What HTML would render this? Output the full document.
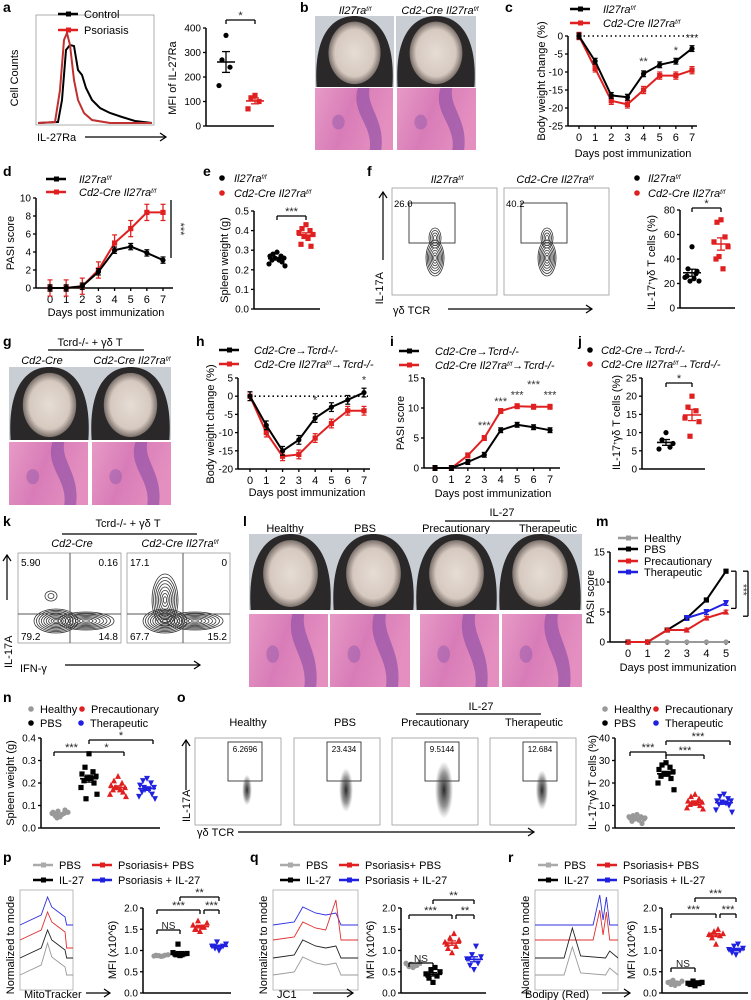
<!DOCTYPE html>
<html><head><meta charset="utf-8"><style>
html,body{margin:0;padding:0;background:#fff;}
svg{display:block;font-family:"Liberation Sans",Arial,sans-serif;}
</style></head><body>
<svg id="fig" width="751" height="1000" viewBox="0 0 751 1000" xmlns="http://www.w3.org/2000/svg">
<defs>
<radialGradient id="blob"><stop offset="0" stop-color="#111" stop-opacity="0.9"/><stop offset="0.6" stop-color="#333" stop-opacity="0.5"/><stop offset="1" stop-color="#666" stop-opacity="0"/></radialGradient>
<radialGradient id="skin"><stop offset="0" stop-color="#e6ddd5"/><stop offset="0.75" stop-color="#d6c9c0"/><stop offset="1" stop-color="#7a706a"/></radialGradient>
<linearGradient id="histo" x1="0" y1="0" x2="1" y2="0.3"><stop offset="0" stop-color="#e79ac6"/><stop offset="0.5" stop-color="#d87cb8"/><stop offset="1" stop-color="#e48fc0"/></linearGradient>
</defs>
</svg>
<script>
// ---------- DATA ----------
const daysC=[0,1,2,3,4,5,6,7];
const cCtrl=[0,-7,-16.5,-17,-10.5,-8,-7,-3.5];
const cCre=[0,-9,-18,-19,-15,-11,-11,-9.5];
const dCtrl=[0,0,0.2,1.8,4.2,4.6,3.9,3.1];
const dCre=[0,0,0.2,2,5,6.6,8.4,8.4];
const hCtrl=[0,-8,-15,-12,-6,-3,-1,1];
const hCre=[0,-10,-16.5,-16,-11.5,-7.5,-4,-4];
const iCtrl=[0,0,1,2.2,6.3,7.2,6.8,6.3];
const iCre=[0,0,2.1,5,9.5,10.3,10.2,10.2];
const daysM=[0,1,2,3,4,5];
const mHealthy=[0,0,0,0,0,0];
const mPBS=[0,0,2,4,7,11.8];
const mPrec=[0,0,2,2,4,5];
const mTher=[null,null,null,4,5,6.5];
const aCtrl=[370,270,240,165];
const aPso=[125,115,100,70];
const eCtrl=[0.29,0.28,0.27,0.27,0.26,0.26,0.25,0.25,0.24,0.23,0.22];
const eCre=[0.43,0.41,0.40,0.39,0.38,0.37,0.36,0.33,0.32];
const fCtrl=[50,32,28,25,22,22,24,26,30];
const fCre=[72,70,58,54,50,42,32,40];
const jCtrl=[10,8,6,5.5,7];
const jCre=[20,17,16,14,13,9];
const nHealthy=[0.05,0.06,0.065,0.07,0.07,0.075,0.06,0.055,0.08,0.065,0.07,0.045];
const nPBS=[0.33,0.27,0.25,0.24,0.23,0.22,0.22,0.21,0.2,0.18,0.15,0.13];
const nPrec=[0.23,0.21,0.2,0.19,0.18,0.18,0.17,0.17,0.16,0.15,0.14,0.18];
const nTher=[0.22,0.21,0.2,0.19,0.18,0.17,0.17,0.16,0.15,0.14,0.13,0.18];
const oHealthy=[6,5.5,5,4.5,4,4,3.5,3,2,5,4.5];
const oPBS=[29,28,27,26,25,24,24,23,22,20,17];
const oPrec=[15,14,13,12,11.5,11,11,10.5,10,9,8.5];
const oTher=[15,14,13,12,12,11.5,11,10.5,10,8,7];
const pVals=[[0.86,0.88,0.89,0.87,0.9,0.88,0.87,0.89],[0.88,0.9,0.92,0.95,0.93,1.15,0.9,0.92],[1.45,1.5,1.55,1.6,1.65,1.7,1.55,1.5],[1.0,1.05,1.1,1.1,1.15,1.2,1.08,1.1]];
const qVals=[[0.6,0.62,0.65,0.7,0.72,0.68,0.64,0.66],[0.25,0.35,0.4,0.45,0.5,0.55,0.6,0.42],[0.95,1.05,1.1,1.2,1.25,1.3,1.4,1.15],[0.55,0.65,0.7,0.8,0.85,0.9,1.1,0.8]];
const rVals=[[0.18,0.2,0.22,0.25,0.28,0.3,0.24,0.26],[0.17,0.2,0.22,0.23,0.25,0.28,0.24,0.21],[1.15,1.3,1.35,1.38,1.4,1.45,1.5,1.37],[0.9,0.95,1.0,1.02,1.05,1.1,1.15,1.0]];

// ---------- HELPERS ----------
const NS='http://www.w3.org/2000/svg';
const svg=document.getElementById('fig');
function mk(tag,a,name,p){
  const e=document.createElementNS(NS,tag);
  for(const k in a) e.setAttribute(k,a[k]);
  
  
  (p||svg).appendChild(e);return e;
}
function tx(x,y,s,name,o){
  o=o||{};
  const e=mk('text',{x:x,y:y,'font-size':o.fs||10,'text-anchor':o.anchor||'start',fill:o.fill||'#000','font-style':o.it?'italic':'normal','font-weight':o.bold?'bold':'normal'},name);
  if(o.rot!==undefined) e.setAttribute('transform','rotate('+o.rot+' '+x+' '+y+')');
  e.textContent=s;return e;
}
function tspanSup(e,s){const t=document.createElementNS(NS,'tspan');t.setAttribute('baseline-shift','super');t.setAttribute('font-size','6');t.textContent=s;e.appendChild(t);}
function ln(x1,y1,x2,y2,name,c,w,dash){const e=mk('line',{x1:x1,y1:y1,x2:x2,y2:y2,stroke:c||'#000','stroke-width':w||1.3},name);if(dash)e.setAttribute('stroke-dasharray',dash);return e;}
function arrowR(x1,x2,y,name){ln(x1,y,x2,y,name,'#000',1.2);mk('path',{d:`M${x2-6},${y-4} L${x2},${y} L${x2-6},${y+4}`,fill:'none',stroke:'#000','stroke-width':1.2},name+'-head');}
function arrowU(x,y1,y2,name){ln(x,y1,x,y2,name,'#000',1.2);mk('path',{d:`M${x-4},${y2+6} L${x},${y2} L${x+4},${y2+6}`,fill:'none',stroke:'#000','stroke-width':1.2},name+'-head');}
function label(x,y,s){tx(x,y,s,'panel-label-'+s,{fs:14,bold:true});}
function yAxis(x,yTop,yBot,min,max,ticks,fmt,name){
  const sc=v=>yBot-(v-min)/(max-min)*(yBot-yTop);
  ln(x,yTop,x,yBot,name+'-line','#000',1.5);
  ticks.forEach(t=>{const y=sc(t);ln(x-3,y,x,y,name+'-tick');tx(x-5,y+3.5,fmt?fmt(t):String(t),name+'-tick-label',{anchor:'end',fs:10});});
  return sc;
}
function marker(shape,x,y,c,name){
  const r=2.6;
  if(shape==='circle') return mk('circle',{cx:x,cy:y,r:r,fill:c},name);
  if(shape==='square') return mk('rect',{x:x-r,y:y-r,width:2*r,height:2*r,fill:c},name);
  if(shape==='tri') return mk('path',{d:`M${x},${y-r-0.6} L${x+r+0.4},${y+r} L${x-r-0.4},${y+r} Z`,fill:c},name);
  return mk('path',{d:`M${x},${y+r+0.6} L${x+r+0.4},${y-r} L${x-r-0.4},${y-r} Z`,fill:c},name);
}
function dotGroup(xc,vals,sc,color,shape,name){
  const offs=[0,-4,4,-7,7,-2,2,-5,5,-8,8,-3,3];
  vals.forEach((v,i)=>marker(shape,xc+offs[i%offs.length],sc(v),color,name+'-point'));
  const n=vals.length,m=vals.reduce((a,b)=>a+b,0)/n;
  const sd=Math.sqrt(vals.reduce((a,b)=>a+(b-m)*(b-m),0)/(n-1)),se=sd/Math.sqrt(n);
  ln(xc-9,sc(m),xc+9,sc(m),name+'-mean',color,1.6);
  ln(xc,sc(m-se),xc,sc(m+se),name+'-sem',color,1.3);
  ln(xc-4,sc(m-se),xc+4,sc(m-se),name+'-sem-cap',color,1.3);
  ln(xc-4,sc(m+se),xc+4,sc(m+se),name+'-sem-cap',color,1.3);
}
function bracket(x1,x2,y,s,name){
  ln(x1,y,x2,y,name,'#000',1.3);ln(x1,y,x1,y+4,name+'-tick');ln(x2,y,x2,y+4,name+'-tick');
  tx((x1+x2)/2,y-1,s,name+'-label',{anchor:'middle',fs:s==='NS'?10:11,fill:'#222'});
}
function xTicks(xs,labels,yAx,name){xs.forEach((x,i)=>{ln(x,yAx,x,yAx+3,name+'-tick');tx(x,yAx+15,String(labels[i]),name+'-tick-label',{anchor:'middle',fs:11});});}
function series(days,vals,xs,sc,color,shape,name,err){
  let d='';days.forEach((dd,i)=>{if(vals[i]===null)return;d+=(d?'L':'M')+xs(dd)+','+sc(vals[i]);});
  mk('path',{d:d,fill:'none',stroke:color,'stroke-width':2},name+'-line');
  days.forEach((dd,i)=>{if(vals[i]===null)return;const x=xs(dd),y=sc(vals[i]);
    if(err){ln(x,sc(vals[i]-err),x,sc(vals[i]+err),name+'-err',color,1.3);ln(x-2.5,sc(vals[i]-err),x+2.5,sc(vals[i]-err),name+'-err-cap',color,1.2);ln(x-2.5,sc(vals[i]+err),x+2.5,sc(vals[i]+err),name+'-err-cap',color,1.2);}
    marker(shape,x,y,color,name+'-point');});
}
function legendLine(x,y,color,s,name,it){ln(x,y,x+20,y,name+'-swatch',color,2.5);mk('rect',{x:x+8,y:y-2.5,width:5,height:5,fill:color},name+'-marker');const t=tx(x+26,y+4,s,name+'-text',{fs:11,it:it});return t;}
function legendDot(x,y,color,s,name,it){mk('circle',{cx:x,cy:y,r:2.8,fill:color},name+'-marker');return tx(x+9,y+4,s,name+'-text',{fs:11,it:it});}
function supText(x,y,pre,sup,post,name,o){const t=tx(x,y,pre,name,o);tspanSup(t,sup);if(post){const t2=document.createElementNS(NS,'tspan');t2.textContent=post;t.appendChild(t2);}return t;}
function photo(x,y,w,h,name){
  mk('rect',{x:x,y:y,width:w,height:h,fill:'#c9cdd4'},name+'-bg');
  mk('path',{d:`M${x+w*0.02},${y+h} C${x-w*0.02},${y+h*0.3} ${x+w*0.2},${y} ${x+w*0.5},${y} C${x+w*0.8},${y} ${x+w*1.02},${y+h*0.3} ${x+w*0.98},${y+h} Z`,fill:'#2a2828'},name+'-mouse');
  mk('ellipse',{cx:x+w*0.5,cy:y+h*0.52,rx:w*0.33,ry:h*0.44,fill:'url(#skin)'},name+'-skin');
}
function histo(x,y,w,h,name){
  mk('rect',{x:x,y:y,width:w,height:h,fill:'url(#histo)'},name);
  mk('path',{d:`M${x+w*0.55},${y} C${x+w*0.45},${y+h*0.4} ${x+w*0.75},${y+h*0.6} ${x+w*0.7},${y+h} L${x+w*0.85},${y+h} C${x+w*0.9},${y+h*0.5} ${x+w*0.65},${y+h*0.3} ${x+w*0.7},${y} Z`,fill:'#9a56a8',opacity:0.75},name+'-epidermis');
  mk('ellipse',{cx:x+w*0.3,cy:y+h*0.55,rx:w*0.08,ry:h*0.12,fill:'#a060ae',opacity:0.6},name+'-follicle');
}
function contour(cx,cy,rx,ry,n,name,rot){const g=mk('g',{transform:`rotate(${rot||0} ${cx} ${cy})`},name);for(let i=0;i<n;i++){mk('ellipse',{cx:cx,cy:cy,rx:rx*(1-i/n),ry:ry*(1-i/n),fill:'none',stroke:'#333','stroke-width':0.8},name+'-level',g);}}

// ---------- PANEL A ----------
label(3,12,'a');
mk('rect',{x:36,y:15,width:118,height:110,fill:'none',stroke:'#999','stroke-width':0.8},'histogram-frame');
mk('path',{d:'M38,123 L58,122 L62,100 L66,50 L70,45 L74,46 L78,70 L82,75 L86,88 L92,100 L100,108 L110,113 L122,117 L135,121 L152,123',fill:'none',stroke:'#000','stroke-width':2},'control-histogram');
mk('path',{d:'M38,123 L55,122 L60,90 L64,40 L67,33 L70,45 L74,80 L78,100 L84,113 L92,120 L110,123 L152,123',fill:'none',stroke:'#c03030','stroke-width':2},'psoriasis-histogram');
legendLine(58,14,'#000','Control','legend-control');
legendLine(58,30,'#e02020','Psoriasis','legend-psoriasis');
tx(18,78,'Cell Counts','y-axis-title-a',{rot:-90,anchor:'middle',fs:11});
tx(37,141,'IL-27Ra','x-axis-title-a',{fs:11});
arrowR(85,166,137,'x-arrow-a');
let sc=yAxis(206,28,126,0,400,[0,100,200,300,400],null,'y-axis-a2');
ln(206,126,274,126,'x-axis-a2','#000',1.5);
dotGroup(226,aCtrl,sc,'#000','circle','control');dotGroup(255,aPso,sc,'#e02020','square','psoriasis');
bracket(226,255,20,'*','sig-a');
tx(176,78,'MFI of IL-27Ra','y-axis-title-a2',{rot:-90,anchor:'middle',fs:11});

// ---------- PANEL B ----------
label(300,12,'b');
supText(355,14,'Il27ra','f/f','','label-b1',{it:true,fs:11,anchor:'middle'});
supText(440,14,'Cd2-Cre Il27ra','f/f','','label-b2',{it:true,fs:11,anchor:'middle'});
photo(315,16,79,71,'photo-b1');photo(396,16,80,71,'photo-b2');
histo(315,88,78,62,'histology-b1');histo(397,88,79,62,'histology-b2');

// ---------- PANEL C ----------
label(505,12,'c');
sc=yAxis(568,36,126,-25,0,[0,-5,-10,-15,-20,-25],null,'y-axis-c');
let xs=d=>579+d*(113/7);
ln(568,126,697,126,'x-axis-c','#000',1.5);
xTicks(daysC.map(xs),daysC,126,'x-axis-c');
ln(579,36,697,36,'zero-line-c','#000',1.6,'1.5,3');
series(daysC,cCre,xs,sc,'#e02020','square','cre-c',1);
series(daysC,cCtrl,xs,sc,'#000','circle','ctrl-c',0.8);
tx(xs(4),sc(-8),'**','sig-c4',{anchor:'middle',fs:11,fill:'#333'});
tx(xs(6),sc(-5),'*','sig-c6',{anchor:'middle',fs:11,fill:'#333'});
tx(xs(7),sc(-1.5),'***','sig-c7',{anchor:'middle',fs:11,fill:'#333'});
tx(545,81,'Body weight change (%)','y-axis-title-c',{rot:-90,anchor:'middle',fs:11});
tx(633,157,'Days post immunization','x-axis-title-c',{anchor:'middle',fs:11});
legendLine(570,9,'#000','','legend-ctrl-c');supText(603,13,'Il27ra','f/f','','legend-ctrl-c-label',{it:true,fs:11});
legendLine(570,23,'#e02020','','legend-cre-c');supText(603,27,'Cd2-Cre Il27ra','f/f','','legend-cre-c-label',{it:true,fs:11});

// ---------- PANEL D ----------
label(3,176,'d');
sc=yAxis(36,198,288,0,10,[0,2,4,6,8,10],null,'y-axis-d');
xs=d=>50+d*(113/7);
ln(36,288,173,288,'x-axis-d','#000',1.5);
xTicks(daysC.map(xs),daysC,288,'x-axis-d');
series(daysC,dCre,xs,sc,'#e02020','square','cre-d',0.9);
series(daysC,dCtrl,xs,sc,'#000','circle','ctrl-d',0.35);
ln(171,200,171,258,'sig-line-d');tx(177,229,'***','sig-d',{rot:90,anchor:'middle',fs:11,fill:'#333'});
tx(14,243,'PASI score','y-axis-title-d',{rot:-90,anchor:'middle',fs:11});
tx(106,316,'Days post immunization','x-axis-title-d',{anchor:'middle',fs:11});
legendLine(46,179,'#000','','legend-ctrl-d');supText(79,183,'Il27ra','f/f','','legend-ctrl-d-label',{it:true,fs:11});
legendLine(46,192,'#e02020','','legend-cre-d');supText(79,196,'Cd2-Cre Il27ra','f/f','','legend-cre-d-label',{it:true,fs:11});

// ---------- PANEL E ----------
label(203,176,'e');
sc=yAxis(254,211,309,0,0.5,[0,0.1,0.2,0.3,0.4,0.5],t=>t.toFixed(1),'y-axis-e');
ln(254,309,320,309,'x-axis-e','#000',1.5);
dotGroup(277,eCtrl,sc,'#000','circle','ctrl-e');dotGroup(306,eCre,sc,'#e02020','square','cre-e');
bracket(277,306,216,'***','sig-e');
tx(228,260,'Spleen weight (g)','y-axis-title-e',{rot:-90,anchor:'middle',fs:11});
legendDot(222,178,'#000','','legend-ctrl-e');supText(234,182,'Il27ra','f/f','','legend-ctrl-e-label',{it:true,fs:11});
legendDot(222,193,'#e02020','','legend-cre-e');supText(234,197,'Cd2-Cre Il27ra','f/f','','legend-cre-e-label',{it:true,fs:11});

// ---------- PANEL F ----------
label(367,176,'f');
supText(447,183,'Il27ra','f/f','','label-f1',{it:true,fs:11,anchor:'middle'});
supText(555,183,'Cd2-Cre Il27ra','f/f','','label-f2',{it:true,fs:11,anchor:'middle'});
[[392,'f1','26.0',435],[504,'f2','40.2',547]].forEach(b=>{
  mk('rect',{x:b[0],y:188,width:105,height:107,fill:'none',stroke:'#999','stroke-width':0.8},'flow-plot-'+b[1]);
  mk('rect',{x:b[0]+17,y:203,width:46,height:40,fill:'none',stroke:'#333','stroke-width':0.9},'gate-'+b[1]);
  tx(b[0]+2,207,b[2],'gate-value-'+b[1],{fs:9.5});
  contour(b[3],258,9,18,7,'contour-'+b[1],0);contour(b[3],238,6,10,4,'contour-top-'+b[1],0);
});
arrowU(383,260,192,'y-arrow-f');
tx(383,272,'IL-17A','y-axis-title-f',{rot:-90,anchor:'end',fs:11});
tx(393,314,'γδ TCR','x-axis-title-f',{fs:11});
arrowR(448,592,309,'x-arrow-f');
sc=yAxis(680,210,308,0,80,[0,20,40,60,80],null,'y-axis-f');
ln(680,308,735,308,'x-axis-f','#000',1.5);
dotGroup(692,fCtrl,sc,'#000','circle','ctrl-f');dotGroup(721,fCre,sc,'#e02020','square','cre-f');
bracket(692,721,208,'*','sig-f');
supText(655,310,'IL-17','+','γδ T cells (%)','y-axis-title-f2',{rot:-90,fs:11});
legendDot(637,178,'#000','','legend-ctrl-f');supText(648,182,'Il27ra','f/f','','legend-ctrl-f-label',{it:true,fs:11});
legendDot(637,193,'#e02020','','legend-cre-f');supText(648,197,'Cd2-Cre Il27ra','f/f','','legend-cre-f-label',{it:true,fs:11});

// ---------- PANEL G ----------
label(3,346,'g');
tx(90,346,'Tcrd-/- + γδ T','title-g',{anchor:'middle',fs:11,it:false});
ln(48,350,144,350,'title-line-g');
tx(42,364,'Cd2-Cre','label-g1',{it:true,fs:11,anchor:'middle'});
supText(132,364,'Cd2-Cre Il27ra','f/f','','label-g2',{it:true,fs:11,anchor:'middle'});
photo(9,367,81,73,'photo-g1');photo(90,367,81,73,'photo-g2');
histo(9,442,79,63,'histology-g1');histo(92,442,79,63,'histology-g2');

// ---------- PANEL H ----------
label(196,346,'h');
sc=yAxis(238,378,469,-20,5,[5,0,-5,-10,-15,-20],null,'y-axis-h');
xs=d=>250+d*(114/7);
ln(238,469,370,469,'x-axis-h','#000',1.5);
xTicks(daysC.map(xs),daysC,469,'x-axis-h');
ln(250,sc(0),368,sc(0),'zero-line-h','#000',1.6,'1.5,3');
series(daysC,hCre,xs,sc,'#e02020','square','cre-h',1.2);
series(daysC,hCtrl,xs,sc,'#000','circle','ctrl-h',1.2);
tx(xs(4),sc(-2),'*','sig-h4',{anchor:'middle',fs:11,fill:'#333'});
tx(xs(7),sc(3.5),'*','sig-h7',{anchor:'middle',fs:11,fill:'#333'});
tx(214,424,'Body weight change (%)','y-axis-title-h',{rot:-90,anchor:'middle',fs:11});
tx(307,496,'Days post immunization','x-axis-title-h',{anchor:'middle',fs:11});
legendLine(219,350,'#000','','legend-ctrl-h');tx(254,354,'Cd2-Cre→Tcrd-/-','legend-ctrl-h-label',{it:true,fs:11});
legendLine(219,364,'#e02020','','legend-cre-h');supText(254,368,'Cd2-Cre Il27ra','f/f','→Tcrd-/-','legend-cre-h-label',{it:true,fs:11});

// ---------- PANEL I ----------
label(390,346,'i');
sc=yAxis(424,378,468,0,15,[0,5,10,15],null,'y-axis-i');
xs=d=>435+d*(115/7);
ln(424,468,560,468,'x-axis-i','#000',1.5);
xTicks(daysC.map(xs),daysC,468,'x-axis-i');
series(daysC,iCre,xs,sc,'#e02020','square','cre-i',0.4);
series(daysC,iCtrl,xs,sc,'#000','circle','ctrl-i',0.4);
[[3,6.5],[4,10.5],[5,11.6],[6,13.3],[7,11.6]].forEach(s=>tx(xs(s[0]),sc(s[1]),'***','sig-i',{anchor:'middle',fs:11,fill:'#333'}));
tx(404,423,'PASI score','y-axis-title-i',{rot:-90,anchor:'middle',fs:11});
tx(493,497,'Days post immunization','x-axis-title-i',{anchor:'middle',fs:11});
legendLine(399,351,'#000','','legend-ctrl-i');tx(435,355,'Cd2-Cre→Tcrd-/-','legend-ctrl-i-label',{it:true,fs:11});
legendLine(399,365,'#e02020','','legend-cre-i');supText(435,369,'Cd2-Cre Il27ra','f/f','→Tcrd-/-','legend-cre-i-label',{it:true,fs:11});

// ---------- PANEL J ----------
label(578,346,'j');
sc=yAxis(642,378,469,0,25,[0,5,10,15,20,25],null,'y-axis-j');
ln(642,469,705,469,'x-axis-j','#000',1.5);
dotGroup(666,jCtrl,sc,'#000','circle','ctrl-j');dotGroup(692,jCre,sc,'#e02020','square','cre-j');
bracket(666,692,383,'*','sig-j');
supText(620,470,'IL-17','+','γδ T cells (%)','y-axis-title-j',{rot:-90,fs:11});
legendDot(590,350,'#000','','legend-ctrl-j');tx(601,354,'Cd2-Cre→Tcrd-/-','legend-ctrl-j-label',{it:true,fs:11});
legendDot(590,364,'#e02020','','legend-cre-j');supText(601,368,'Cd2-Cre Il27ra','f/f','→Tcrd-/-','legend-cre-j-label',{it:true,fs:11});

// ---------- PANEL K ----------
label(3,526,'k');
tx(128,527,'Tcrd-/- + γδ T','title-k',{anchor:'middle',fs:11});
ln(62,534,197,534,'title-line-k');
tx(72,547,'Cd2-Cre','label-k1',{it:true,fs:11,anchor:'middle'});
supText(180,547,'Cd2-Cre Il27ra','f/f','','label-k2',{it:true,fs:11,anchor:'middle'});
[[18,70,'k1',['5.90','0.16','79.2','14.8']],[127,183,'k2',['17.1','0','67.7','15.2']]].forEach(b=>{
  mk('rect',{x:b[0],y:553,width:103,height:90,fill:'none',stroke:'#999','stroke-width':0.8},'flow-plot-'+b[2]);
  contour(b[0]+38,621,22,12,9,'contour-main-'+b[2],0);
  contour(b[0]+68,621,28,9,8,'contour-ifng-'+b[2],0);
  if(b[2]==='k2') contour(b[0]+38,600,13,26,8,'contour-il17-'+b[2],0); else contour(b[0]+33,596,6,5,2,'contour-il17-'+b[2],0);
  ln(b[1],553,b[1],643,'quadrant-v-'+b[2],'#555',1);ln(b[0],614,b[0]+103,614,'quadrant-h-'+b[2],'#555',1);
  tx(b[0]+3,566,b[3][0],'q-ul-'+b[2],{fs:10});tx(b[0]+100,566,b[3][1],'q-ur-'+b[2],{fs:10,anchor:'end'});
  tx(b[0]+3,640,b[3][2],'q-ll-'+b[2],{fs:10});tx(b[0]+100,640,b[3][3],'q-lr-'+b[2],{fs:10,anchor:'end'});
});
arrowU(7,600,555,'y-arrow-k');
tx(12,668,'IL-17A','y-axis-title-k',{rot:-90,fs:11});
tx(20,672,'IFN-γ','x-axis-title-k',{fs:11});
arrowR(65,200,665,'x-arrow-k');

// ---------- PANEL L ----------
label(243,526,'l');
tx(502,516,'IL-27','title-l',{anchor:'middle',fs:11});ln(445,521,560,521,'title-line-l');
[['Healthy',285],['PBS',365],['Precautionary',456],['Therapeutic',548]].forEach((s,i)=>tx(s[1],532,s[0],'label-l'+i,{anchor:'middle',fs:11}));
mk('rect',{x:249,y:534,width:333,height:76,fill:'#c9cdd4'},'photo-l-bg');
photo(249,534,83,76,'photo-l1');photo(332,534,83,76,'photo-l2');photo(415,534,83,76,'photo-l3');photo(498,534,84,76,'photo-l4');
histo(249,614,79,73,'histology-l1');histo(330,614,80,73,'histology-l2');histo(420,614,79,73,'histology-l3');histo(502,614,80,73,'histology-l4');

// ---------- PANEL M ----------
label(596,526,'m');
sc=yAxis(610,552,642,0,15,[0,5,10,15],null,'y-axis-m');
xs=d=>628+d*(98/5);
ln(610,642,730,642,'x-axis-m','#000',1.5);
xTicks(daysM.map(xs),daysM,642,'x-axis-m');
series(daysM,mHealthy,xs,sc,'#999','circle','healthy-m',0);
series(daysM,mPBS,xs,sc,'#000','square','pbs-m',0.2);
series(daysM,mPrec,xs,sc,'#e02020','tri','prec-m',0.3);
series(daysM,mTher,xs,sc,'#2020e0','inv','ther-m',0.4);
ln(731,sc(11.8),736,sc(11.8),'sig-m1');ln(736,sc(11.8),736,sc(5.6),'sig-m1');ln(731,sc(5.6),736,sc(5.6),'sig-m1');
ln(743,sc(11.8),748,sc(11.8),'sig-m2');ln(748,sc(11.8),748,sc(4.3),'sig-m2');ln(743,sc(4.3),748,sc(4.3),'sig-m2');
tx(740,sc(8.7),'***','sig-m1-label',{rot:90,anchor:'middle',fs:10,fill:'#333'});
tx(751,sc(8),'***','sig-m2-label',{rot:90,anchor:'middle',fs:10,fill:'#333'});
tx(594,597,'PASI score','y-axis-title-m',{rot:-90,anchor:'middle',fs:11});
tx(678,671,'Days post immunization','x-axis-title-m',{anchor:'middle',fs:11});
legendLine(618,538,'#999','Healthy','legend-healthy-m');legendLine(618,549,'#000','PBS','legend-pbs-m');
legendLine(618,561,'#e02020','Precautionary','legend-prec-m');legendLine(618,572,'#2020e0','Therapeutic','legend-ther-m');

// ---------- PANEL N ----------
label(3,702,'n');
legendDot(31,709,'#999','Healthy','legend-healthy-n');legendDot(82,709,'#e02020','Precautionary','legend-prec-n');
legendDot(31,723,'#000','PBS','legend-pbs-n');legendDot(81,723,'#2020e0','Therapeutic','legend-ther-n');
sc=yAxis(41,738,828,0,0.4,[0,0.1,0.2,0.3,0.4],t=>t.toFixed(1),'y-axis-n');
ln(41,828,160,828,'x-axis-n','#000',1.5);
dotGroup(60,nHealthy,sc,'#999','circle','healthy-n');dotGroup(89,nPBS,sc,'#000','square','pbs-n');
dotGroup(118,nPrec,sc,'#e02020','tri','prec-n');dotGroup(147,nTher,sc,'#2020e0','inv','ther-n');
bracket(54,89,752,'***','sig-n1');bracket(89,124,752,'*','sig-n2');bracket(89,153,740,'*','sig-n3');
tx(14,783,'Spleen weight (g)','y-axis-title-n',{rot:-90,anchor:'middle',fs:11});

// ---------- PANEL O ----------
label(177,702,'o');
tx(481,710,'IL-27','title-o',{anchor:'middle',fs:11});ln(416,714,541,714,'title-line-o');
[['Healthy',248],['PBS',345],['Precautionary',435],['Therapeutic',534]].forEach((s,i)=>tx(s[1],726,s[0],'label-o'+i,{anchor:'middle',fs:11}));
[[195,'6.2696',0.7],[294,'23.434',1],[392,'9.5144',1.3],[490,'12.684',0.9]].forEach((b,i)=>{
  mk('rect',{x:b[0],y:738,width:86,height:87,fill:'none',stroke:'#999','stroke-width':0.8},'flow-plot-o'+i);
  mk('ellipse',{cx:b[0]+52,cy:790,rx:7*b[2],ry:22*b[2],fill:'url(#blob)'},'event-cloud-o'+i);
  mk('rect',{x:b[0]+33,y:742,width:34,height:39,fill:'none',stroke:'#333','stroke-width':0.9},'gate-o'+i);
  tx(b[0]+50,752,b[1],'gate-value-o'+i,{anchor:'middle',fs:8});
});
arrowU(186,790,740,'y-arrow-o');
tx(190,822,'IL-17A','y-axis-title-o',{rot:-90,fs:11});
tx(197,836,'γδ TCR','x-axis-title-o',{fs:11});
arrowR(238,534,832,'x-arrow-o');
sc=yAxis(615,738,828,0,40,[0,10,20,30,40],null,'y-axis-o2');
ln(615,828,735,828,'x-axis-o2','#000',1.5);
dotGroup(637,oHealthy,sc,'#999','circle','healthy-o');dotGroup(666,oPBS,sc,'#000','square','pbs-o');
dotGroup(695,oPrec,sc,'#e02020','tri','prec-o');dotGroup(724,oTher,sc,'#2020e0','inv','ther-o');
bracket(630,666,752,'***','sig-o1');bracket(666,704,755,'***','sig-o2');bracket(666,730,741,'***','sig-o3');
supText(596,830,'IL-17','+','γδ T cells (%)','y-axis-title-o2',{rot:-90,fs:11});
legendDot(605,709,'#999','Healthy','legend-healthy-o');legendDot(656,709,'#e02020','Precautionary','legend-prec-o');
legendDot(605,723,'#000','PBS','legend-pbs-o');legendDot(656,723,'#2020e0','Therapeutic','legend-ther-o');

// ---------- PANELS P Q R ----------
function mitoPanel(ox,lab,histX,histW,axisX,pts,vals,xlab,brs){
  label(ox,862,lab);
  legendLine(ox+30,865,'#aaa','PBS','legend-pbs-'+lab);legendLine(ox+89,865,'#e02020','Psoriasis+ PBS','legend-pso-pbs-'+lab);
  legendLine(ox+30,880,'#000','IL-27','legend-il27-'+lab);legendLine(ox+89,880,'#2020e0','Psoriasis + IL-27','legend-pso-il27-'+lab);
  mk('rect',{x:histX,y:890,width:histW,height:100,fill:'none',stroke:'#aaa','stroke-width':0.8},'histogram-frame-'+lab);
  const bases=[[925,'#3030e0'],[940,'#e03030'],[958,'#222'],[975,'#999']];
  bases.forEach((b,i)=>{
    const y=b[0],w=histW;let d;
    if(lab==='r') d=`M${histX},${y} L${histX+w*0.7},${y} L${histX+w*0.78},${y-(i===2?8:30)} L${histX+w*0.82},${y-5} L${histX+w*0.86},${y-28} L${histX+w*0.9},${y} L${histX+w},${y}`;
    else if(lab==='q') d=`M${histX},${y} L${histX+w*0.25},${y-3} L${histX+w*0.35},${y-18} L${histX+w*0.5},${y-12} L${histX+w*0.62},${y-10} L${histX+w*0.74},${y-(i===1?40:12)} L${histX+w*0.8},${y} L${histX+w},${y}`;
    else d=`M${histX},${y} L${histX+w*0.4},${y-10} L${histX+w*0.52},${y-(i===3?32:28)} L${histX+w*0.6},${y-18} L${histX+w*0.75},${y-12} L${histX+w*0.85},${y-8} L${histX+w*0.88},${y+(i===1?8:0)} L${histX+w},${y+(i===1?8:0)}`;
    if(lab==='r'&&i>=2) d=`M${histX},${y} L${histX+w*0.35},${y} L${histX+w*0.45},${y-(i===2?30:28)} L${histX+w*0.55},${y-2} L${histX+w*0.85},${y} L${histX+w*0.9},${y-7} L${histX+w},${y}`;
    mk('path',{d:d,fill:'none',stroke:b[1],'stroke-width':0.9},'histogram-trace-'+lab+i);
  });
  tx(histX-6,945,'Normalized to mode','y-axis-title-hist-'+lab,{rot:-90,anchor:'middle',fs:11});
  tx(histX+(lab==='r'?-10:4),998,xlab,'x-axis-title-hist-'+lab,{fs:11});
  arrowR(histX+(lab==='p'?66:lab==='q'?40:67),histX+(lab==='p'?90:lab==='q'?80:95),993,'x-arrow-hist-'+lab);
  const s=yAxis(axisX,908,993,0,2,[0,0.5,1,1.5,2],t=>t.toFixed(1),'y-axis-'+lab);
  ln(axisX,993,pts[3]+12,993,'x-axis-'+lab,'#000',1.5);
  const cols=['#999','#000','#e02020','#2020e0'],shp=['circle','square','tri','inv'];
  vals.forEach((v,i)=>dotGroup(pts[i],v,s,cols[i],shp[i],'group'+i+'-'+lab));
  brs.forEach((b,i)=>bracket(pts[b[0]]+(b[3]||0),pts[b[1]],b[2],b[4],'sig-'+lab+i));
  tx(axisX-27,950,'MFI (x10^6)','y-axis-title-'+lab,{rot:-90,anchor:'middle',fs:11});
}
mitoPanel(3,'p',20,53,143,[161,180,200,219],pVals,'MitoTracker',[[0,1,930,-4,'NS'],[0,2,910,-4,'***'],[2,3,910,4,'***'],[1,3,897,0,'**']]);
mitoPanel(250,'q',273,85,401,[413,433,452,474],qVals,'JC1',[[0,1,963,-4,'NS'],[0,2,915,-4,'***'],[2,3,915,4,'**'],[1,3,900,0,'**']]);
mitoPanel(508,'r',535,83,662,[675,695,716,736],rVals,'Bodipy (Red)',[[0,1,968,-4,'NS'],[0,2,914,-4,'***'],[2,3,914,4,'***'],[1,3,898,0,'***']]);
</script>
</body></html>
